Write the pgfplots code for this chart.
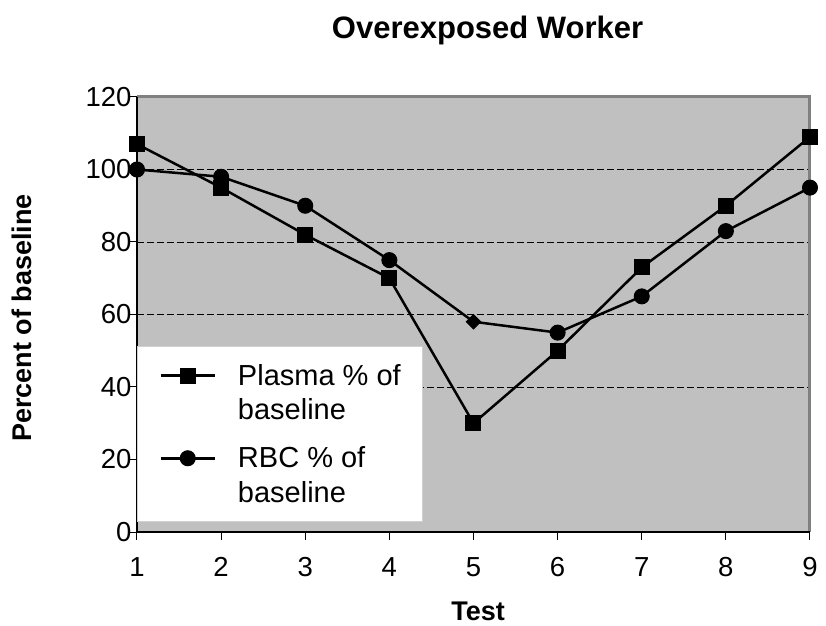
\documentclass[border=0pt]{standalone}
\usepackage{pgfplots}
\pgfplotsset{compat=1.18}
\usepackage{fontspec}
\setmainfont{Liberation Sans}
\definecolor{plotbg}{HTML}{C0C0C0}
\definecolor{framegray}{HTML}{808080}
\definecolor{legframe}{HTML}{D0D0D0}
\begin{document}
\begin{tikzpicture}
\begin{axis}[
  scale only axis, width=673bp, height=435bp,
  xmin=1, xmax=9, ymin=0, ymax=120,
  xtick={1,2,3,4,5,6,7,8,9}, ytick={0,20,40,60,80,100,120},
  tick pos=left, tick align=outside,
  major tick length=8bp,
  tick style={black, line width=1bp},
  axis line style={draw=none},
  axis background/.style={fill=plotbg},
  clip=false,
  /pgf/number format/assume math mode=true,
  tick label style={font=\fontsize{27.5bp}{32bp}\selectfont},
  xticklabel style={yshift=-14bp},
  yticklabel style={xshift=6bp},
  extra y ticks={40,60,80,100},
  extra y tick labels={},
  extra y tick style={grid=major, major grid style={black, dash pattern=on 7bp off 3bp, line width=0.8bp}},
  title={Overexposed Worker},
  title style={font=\bfseries\fontsize{31bp}{36bp}\selectfont, at={(axis description cs:0.521,1)}, anchor=base, yshift=53bp},
  xlabel={Test}, ylabel={Percent of baseline},
  every axis x label/.style={at={(axis description cs:0.507,-0.182)}, anchor=center, font=\bfseries\fontsize{27bp}{32bp}\selectfont},
  every axis y label/.style={at={(axis description cs:-0.171,0.492)}, rotate=90, anchor=center, font=\bfseries\fontsize{27bp}{32bp}\selectfont},
  legend style={at={(rel axis cs:0,0.023)}, anchor=south west, draw=legframe, fill=white, line width=1bp,
    font=\fontsize{29bp}{34bp}\selectfont, inner xsep=22bp, inner ysep=18bp,
    nodes={inner sep=0pt}, column sep=22bp, row sep=11.5bp},
  legend cell align=left,
  legend image code/.code={\draw[#1, mark indices={2}] plot coordinates {(0bp,0bp) (27bp,0bp) (54bp,0bp)};},
]
\coordinate (O) at (rel axis cs:0,0);
\draw[framegray, line width=3bp] (rel axis cs:0,1) -- (rel axis cs:1,1) -- (rel axis cs:1,0);
\draw[black, line width=2bp] (rel axis cs:0,1) -- (rel axis cs:0,0) -- (rel axis cs:1,0);
\addplot[black, line width=2.5bp, mark=square*, mark size=7.5bp, mark options={solid, fill=black, line width=1bp}]
  coordinates {(1,107) (2,95) (3,82) (4,70) (5,30) (6,50) (7,73) (8,90) (9,109)};
\addlegendentry{Plasma \% of}
\addlegendimage{empty legend}
\addlegendentry[text depth=16bp]{baseline}
\addplot[black, line width=2.5bp, mark=*, mark size=7.5bp, mark indices={1,2,3,4,6,7,8,9}, mark options={solid, fill=black, line width=1bp}]
  coordinates {(1,100) (2,98) (3,90) (4,75) (5,58) (6,55) (7,65) (8,83) (9,95)};
\addlegendentry{RBC \% of}
\addlegendimage{empty legend}
\addlegendentry{baseline}
\addplot[forget plot, black, only marks, mark=square*, mark size=5bp, mark options={solid, fill=black, rotate=45, line width=1bp}]
  coordinates {(5,58)};
\end{axis}
\pgfresetboundingbox
\path (O) ++(-137bp,-94bp) rectangle ++(826bp,626bp);
\end{tikzpicture}
\end{document}
